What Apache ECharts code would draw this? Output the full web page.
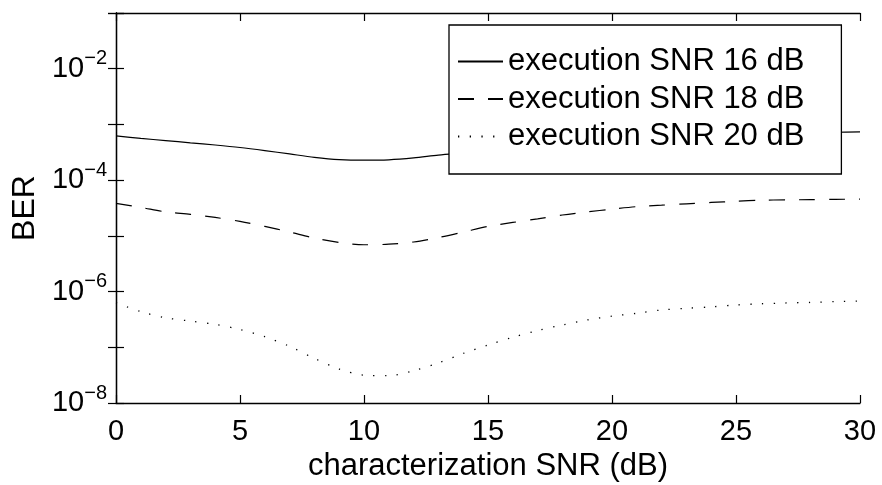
<!DOCTYPE html>
<html>
<head>
<meta charset="utf-8">
<script src="https://cdn.jsdelivr.net/npm/echarts@6/dist/echarts.min.js"></script>
<style>html,body{margin:0;padding:0;background:#fff;}#c{width:882px;height:485px;}</style>
</head>
<body>
<div id="c"></div>
<script>
const xValues = [0,1,2,3,4,5,6,7,8,9,10,11,12,13,14,15,16,17,18,19,20,21,22,23,24,25,26,27,28,29,30];
const ber16 = [6.21e-4,5.62e-4,5.13e-4,4.68e-4,4.27e-4,3.85e-4,3.39e-4,2.95e-4,2.57e-4,2.34e-4,2.28e-4,2.32e-4,2.51e-4,2.82e-4,3.09e-4,3.39e-4,3.72e-4,4.07e-4,4.47e-4,4.79e-4,5.13e-4,5.50e-4,5.75e-4,6.03e-4,6.31e-4,6.53e-4,6.76e-4,6.92e-4,7.08e-4,7.24e-4,7.33e-4];
const ber18 = [3.83e-5,3.24e-5,2.69e-5,2.43e-5,2.14e-5,1.82e-5,1.48e-5,1.17e-5,9.12e-6,7.59e-6,6.92e-6,7.08e-6,7.76e-6,9.33e-6,1.17e-5,1.48e-5,1.74e-5,2.02e-5,2.37e-5,2.69e-5,3.02e-5,3.35e-5,3.55e-5,3.76e-5,3.98e-5,4.17e-5,4.37e-5,4.42e-5,4.47e-5,4.52e-5,4.57e-5];
const ber20 = [6.31e-7,4.37e-7,3.39e-7,2.95e-7,2.57e-7,2.09e-7,1.55e-7,1.04e-7,6.31e-8,4.07e-8,3.16e-8,3.09e-8,3.80e-8,5.25e-8,7.76e-8,1.10e-7,1.51e-7,2.00e-7,2.51e-7,3.09e-7,3.63e-7,4.07e-7,4.68e-7,5.01e-7,5.31e-7,5.75e-7,6.03e-7,6.24e-7,6.38e-7,6.61e-7,6.76e-7];
const seriesNames = ['execution SNR 16 dB','execution SNR 18 dB','execution SNR 20 dB'];
const yLabelExponents = [-8, -6, -4, -2];
const xTitle = 'characterization SNR (dB)';
const yTitle = 'BER';

const FONT = "'Liberation Sans', Arial, sans-serif";
const toPairs = arr => xValues.map((x, i) => [x, arr[i]]);
const axisLine = {show: true, lineStyle: {color: '#000', width: 1.3}};
const tick = {show: true, inside: true, length: 8, lineStyle: {color: '#000', width: 1.2}};

const chart = echarts.init(document.getElementById('c'), null, {renderer: 'canvas'});
chart.setOption({
  backgroundColor: '#fff',
  animation: false,
  grid: {left: 116, right: 22, top: 13, bottom: 82, containLabel: false, outerBoundsMode: 'none'},
  xAxis: [{
    type: 'value', min: 0, max: 30, interval: 5, position: 'bottom',
    name: xTitle, nameLocation: 'middle', nameGap: 48,
    nameTextStyle: {fontFamily: FONT, fontSize: 31, color: '#000'},
    axisLine: axisLine, axisTick: tick, splitLine: {show: false},
    axisLabel: {fontFamily: FONT, fontSize: 29, color: '#000', margin: 14}
  }, {
    type: 'value', min: 0, max: 30, interval: 5, position: 'top',
    axisLine: axisLine, axisTick: tick, splitLine: {show: false}, axisLabel: {show: false}
  }],
  yAxis: [{
    type: 'log', logBase: 10, min: 1e-8, max: 1e-1, interval: 1, position: 'left',
    name: yTitle, nameLocation: 'middle', nameGap: 74, nameRotate: 90,
    nameTextStyle: {fontFamily: FONT, fontSize: 32, color: '#000'},
    axisLine: axisLine, axisTick: Object.assign({interval: 0}, tick), splitLine: {show: false},
    axisLabel: {
      margin: 9, color: '#000',
      formatter: v => {
        const e = Math.round(Math.log10(v));
        if (yLabelExponents.indexOf(e) < 0) return '';
        return '{b|10}{s|\u2212' + (-e) + '}';
      },
      rich: {
        b: {fontFamily: FONT, fontSize: 29, color: '#000'},
        s: {fontFamily: FONT, fontSize: 20, color: '#000', padding: [0, 0, 20, 0]}
      }
    }
  }, {
    type: 'log', logBase: 10, min: 1e-8, max: 1e-1, interval: 1, position: 'right',
    axisLine: axisLine, axisTick: Object.assign({interval: 0}, tick), splitLine: {show: false},
    axisLabel: {show: false}
  }],
  legend: {
    orient: 'vertical', left: 449, top: 25,
    padding: [21, 37, 22, 8],
    itemWidth: 45, itemHeight: 14, itemGap: 6.5,
    itemStyle: {opacity: 0},
    backgroundColor: '#fff', borderColor: '#000', borderWidth: 1.3, borderRadius: 0,
    textStyle: {fontFamily: FONT, fontSize: 31, color: '#000', lineHeight: 31},
    data: seriesNames
  },
  series: [{
    name: seriesNames[0], type: 'line', data: toPairs(ber16), symbol: 'none', smooth: 0.3,
    itemStyle: {color: '#000'},
    lineStyle: {color: '#000', width: 1.2, type: 'solid'}, z: 2
  }, {
    name: seriesNames[1], type: 'line', data: toPairs(ber18), symbol: 'none', smooth: 0.3,
    itemStyle: {color: '#000'},
    lineStyle: {color: '#000', width: 1.2, type: [16, 14]}, z: 2
  }, {
    name: seriesNames[2], type: 'line', data: toPairs(ber20), symbol: 'none', smooth: 0.3,
    itemStyle: {color: '#000'},
    lineStyle: {color: '#000', width: 1.3, type: [1.3, 10.4]}, z: 2
  }]
});
</script>
</body>
</html>
